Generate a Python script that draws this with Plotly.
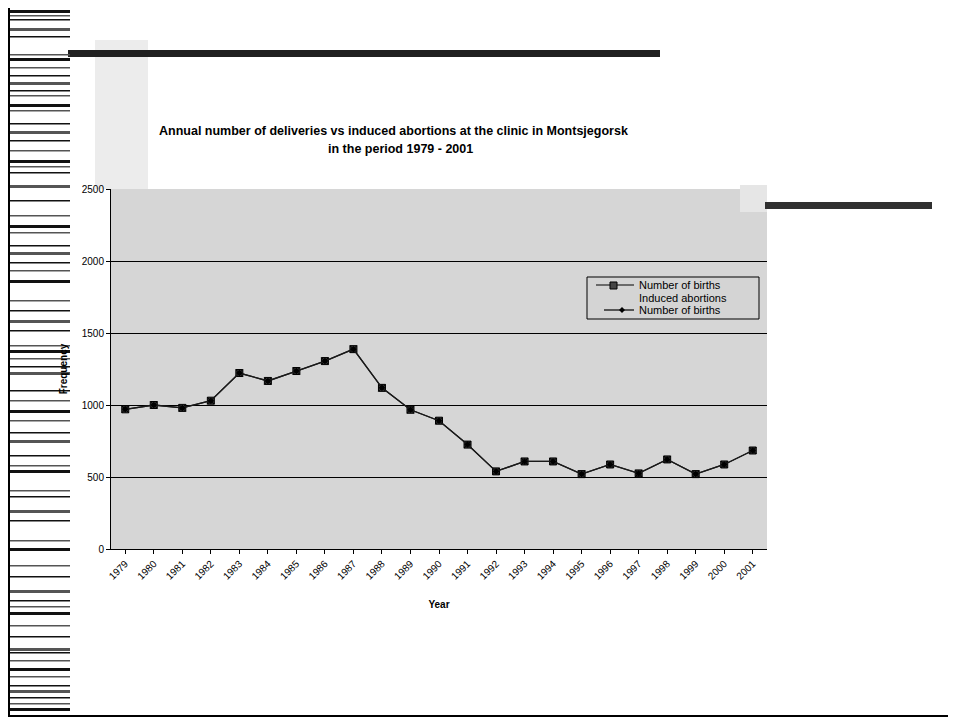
import plotly.graph_objects as go

# chart data
years = list(range(1979, 2002))
births = [970, 1000, 980, 1030, 1222, 1167, 1236, 1305, 1388, 1119,
          967, 891, 725, 539, 608, 608, 520, 587, 525, 622, 520, 587, 684]
year_labels = [str(y) for y in years]
legend_names = ["Number of births", "Induced abortions", "Number of births"]

OFF = 8                      # the page body adds an 8px margin
W, H = 956 - OFF, 719 - OFF
L, R, T, B = 111, 767, 189, 549  # plot area in screen pixels


def px_x(p):
    return (p - L) / (R - L)


def px_y(p):
    return (B - p) / (B - T)


def box(x0, y0, x1, y1, color, line=None, layer="below"):
    return dict(type="rect", xref="paper", yref="paper", layer=layer,
                x0=px_x(x0), x1=px_x(x1), y0=px_y(y1), y1=px_y(y0),
                fillcolor=color, line=dict(width=0) if line is None else line)


def seg(x0, y0, x1, y1, color="#000000", width=1):
    return dict(type="line", xref="paper", yref="paper", layer="above",
                x0=px_x(x0), x1=px_x(x1), y0=px_y(y0), y1=px_y(y1),
                line=dict(color=color, width=width))


fig = go.Figure()

fig.add_trace(go.Scatter(
    x=years, y=births, name=legend_names[0], mode="lines+markers",
    line=dict(color="#1a1a1a", width=1.3),
    marker=dict(symbol="square-x", size=7, color="#333333",
                line=dict(color="#000000", width=1))))
fig.add_trace(go.Scatter(
    x=years, y=births, name=legend_names[2], mode="lines+markers",
    line=dict(color="#1a1a1a", width=1.3),
    marker=dict(symbol="diamond", size=5, color="#000000")))

shapes = []
# scan artefacts: stippled strip behind the title, dark bars, page frame
shapes.append(box(95, 40, 148, 189, "#ececec"))
shapes.append(box(740, 185, 767, 212, "#e6e6e6"))
shapes.append(box(68, 50, 660, 57, "#202020"))
shapes.append(box(765, 202, 932, 209, "#303030"))
shapes.append(seg(8, 716, 950, 716, width=2))
shapes.append(seg(949, 8, 949, 716, width=2))
stripes = [10, 15, 19, 28, 36, 54, 58, 67, 75, 82, 90, 95, 104, 110, 123, 131,
           140, 150, 160, 166, 172, 185, 200, 215, 225, 232, 245, 252, 262,
           270, 280, 300, 310, 320, 330, 345, 350, 358, 366, 372, 390, 400,
           410, 420, 432, 440, 455, 465, 470, 490, 496, 510, 520, 540, 548,
           565, 576, 590, 600, 606, 612, 625, 636, 648, 652, 660, 668, 676,
           685, 690, 697, 703, 708]
for i, s in enumerate(stripes):
    th = 3 if i % 3 == 0 else 1.5
    shapes.append(box(8, s, 70, s + th, "#111111" if i % 2 == 0 else "#555555"))
shapes.append(box(8, 8, 10, 716, "#000000"))

# hand-drawn legend box, as in the scan
shapes.append(box(587, 277, 759, 319, "#d4d4d4",
                  line=dict(color="#000000", width=1), layer="above"))
shapes.append(seg(596, 285, 634, 285, width=1.2))
shapes.append(box(610, 282, 617, 289, "#444444",
                  line=dict(color="#000000", width=1), layer="above"))
shapes.append(seg(604, 310, 634, 310, width=1.2))
shapes.append(dict(type="path", xref="paper", yref="paper", layer="above",
                   path="M {} {} L {} {} L {} {} L {} {} Z".format(
                       px_x(619), px_y(310), px_x(622), px_y(307),
                       px_x(625), px_y(310), px_x(622), px_y(313)),
                   fillcolor="#000000", line=dict(width=0)))

title_font = dict(size=12.5, family="Arial, Liberation Sans, sans-serif")
annotations = [
    dict(text="<b>Annual number of deliveries vs induced abortions at the clinic in Montsjegorsk</b>",
         xref="paper", yref="paper", x=px_x(393), y=px_y(131),
         xanchor="center", yanchor="middle", showarrow=False, font=title_font),
    dict(text="<b>in the period 1979 - 2001</b>",
         xref="paper", yref="paper", x=px_x(400), y=px_y(149),
         xanchor="center", yanchor="middle", showarrow=False, font=title_font),
]
for name, ypos in zip(legend_names, [285, 297.5, 310]):
    annotations.append(dict(text=name, xref="paper", yref="paper",
                            x=px_x(637), y=px_y(ypos), xanchor="left",
                            yanchor="middle", showarrow=False,
                            font=dict(size=11)))

fig.update_layout(
    width=W, height=H,
    margin=dict(l=L - OFF, r=W - (R - OFF), t=T - OFF, b=H - (B - OFF)),
    paper_bgcolor="#ffffff",
    plot_bgcolor="#d6d6d6",
    font=dict(family="Arial, Liberation Sans, sans-serif", color="#000000", size=10),
    shapes=shapes,
    annotations=annotations,
    showlegend=False,
)

fig.update_xaxes(
    tickmode="array", tickvals=years, ticktext=year_labels,
    range=[1978.5, 2001.5], tickangle=-45,
    showgrid=False, zeroline=False,
    showline=True, linecolor="#000000", linewidth=1, mirror=False,
    ticks="outside", ticklen=4, tickcolor="#000000",
    tickfont=dict(size=10),
    title=dict(text="<b>Year</b>", font=dict(size=10), standoff=20),
)
fig.update_yaxes(
    range=[0, 2500], tickvals=[0, 500, 1000, 1500, 2000, 2500],
    showgrid=True, gridcolor="#000000", gridwidth=1, zeroline=False,
    showline=True, linecolor="#000000", linewidth=1,
    ticks="outside", ticklen=4, tickcolor="#000000",
    tickfont=dict(size=10),
    title=dict(text="<b>Frequency</b>", font=dict(size=10), standoff=12),
)

fig.write_html("out.html")
